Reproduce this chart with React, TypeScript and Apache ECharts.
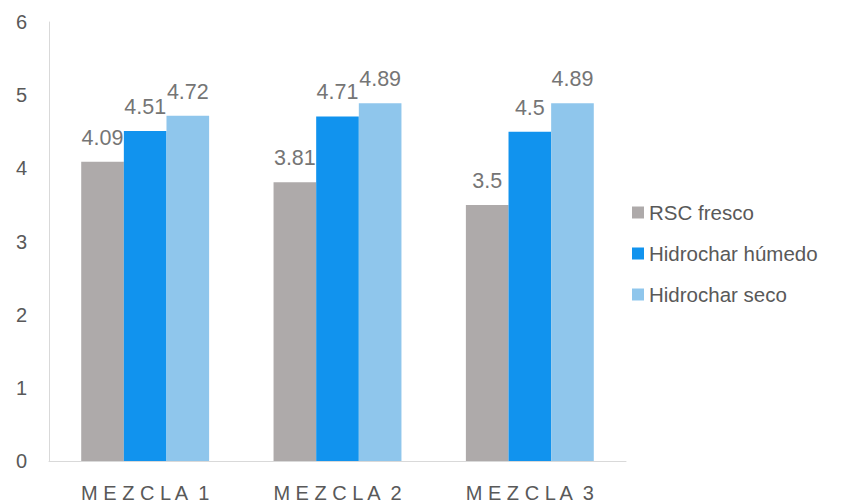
import React, { useEffect, useRef } from "react";
import * as echarts from "echarts";

const categories = ["MEZCLA 1", "MEZCLA 2", "MEZCLA 3"];
const rscFresco = [4.09, 3.81, 3.5];
const hidrocharHumedo = [4.51, 4.71, 4.5];
const hidrocharSeco = [4.72, 4.89, 4.89];
const seriesNames = ["RSC fresco", "Hidrochar húmedo", "Hidrochar seco"];
const colors = ["#aeaaaa", "#1193ee", "#8fc6ec"];

export default function App() {
  const ref = useRef<HTMLDivElement>(null);
  useEffect(() => {
    if (!ref.current) return;
    document.body.style.margin = "0";
    const chart = echarts.init(ref.current, null, { renderer: "svg" });
    const font = "Liberation Sans, Arial, sans-serif";
    const data = [rscFresco, hidrocharHumedo, hidrocharSeco];
    chart.setOption({
      animation: false,
      backgroundColor: "#ffffff",
      textStyle: { fontFamily: font },
      grid: { left: 49, right: 224, top: 22, bottom: 39 },
      legend: {
        orient: "vertical",
        left: 627,
        top: 197,
        itemWidth: 12,
        itemHeight: 12,
        itemGap: 20,
        icon: "rect",
        textStyle: { fontSize: 20.5, color: "#595959", fontFamily: font },
        data: seriesNames,
      },
      xAxis: {
        type: "category",
        data: categories,
        axisLine: { lineStyle: { color: "#d9d9d9", width: 1 } },
        axisTick: { show: false },
        axisLabel: {
          fontSize: 20,
          color: "#595959",
          margin: 22,
          fontFamily: font,
          formatter: (v: string) =>
            v
              .split(" ")
              .map((w) => w.split("").join(" "))
              .join("  "),
        },
      },
      yAxis: {
        type: "value",
        min: 0,
        max: 6,
        interval: 1,
        axisLine: { show: true, lineStyle: { color: "#d9d9d9", width: 1 } },
        axisTick: { show: false },
        splitLine: { show: false },
        axisLabel: { fontSize: 20, color: "#595959", margin: 22, fontFamily: font },
      },
      series: seriesNames.map((name, i) => ({
        name,
        type: "bar",
        data: data[i],
        barGap: "0%",
        barCategoryGap: "33.5%",
        itemStyle: { color: colors[i] },
        label: {
          show: true,
          position: "top",
          distance: 13,
          fontSize: 21.5,
          color: "#757575",
          fontFamily: font,
        },
      })),
    });
    return () => chart.dispose();
  }, []);
  return (
    <div
      ref={ref}
      style={{ position: "absolute", left: 0, top: 0, width: 850, height: 503 }}
    />
  );
}
